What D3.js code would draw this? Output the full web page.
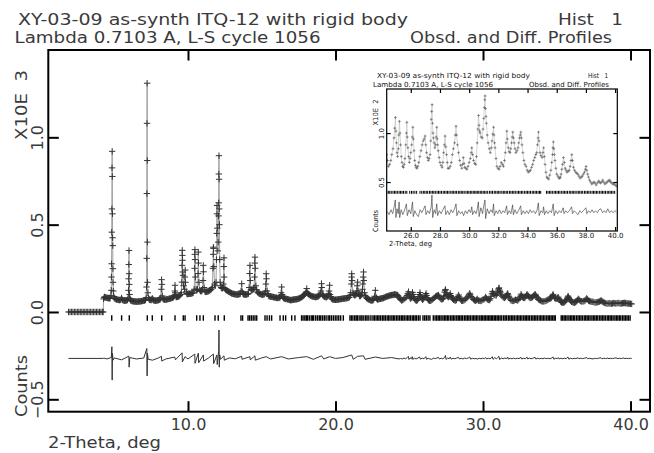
<!DOCTYPE html>
<html>
<head>
<meta charset="utf-8">
<style>
  body { margin: 0; background: #fff; }
  text { font-family: "DejaVu Sans", sans-serif; }
</style>
</head>
<body>
<script src="https://cdn.jsdelivr.net/npm/d3@7/dist/d3.min.js"></script>
<script>

// observed profile, [2-theta (deg), counts]
var obsPts = [
  [1.9,0],[2.0,0],[2.1,0],[2.2,0],[2.3,0],[2.4,0],[2.5,0],[2.6,0],[2.7,0],[2.8,0],[2.9,0],[3.0,0],
  [3.1,0],[3.2,0],[3.3,0],[3.4,0],[3.5,0],[3.6,0],[3.7,0],[3.8,0],[3.9,0],[4.0,0],[4.1,0],[4.2,0],[4.25,0],
  [4.28,75],[4.32,84],[4.35,86],[4.40,84],[4.45,82],[4.50,81],[4.55,80],[4.60,79],[4.65,78],[4.69,79],[4.72,80],
  [4.78,95],[4.80,124],[4.81,200],[4.82,276],[4.83,457],[4.84,590],[4.85,825],[4.86,920],[4.87,776],[4.88,562],
  [4.89,425],[4.90,380],[4.91,248],[4.92,170],[4.94,120],[4.97,88],
  [5.00,80],[5.05,76],[5.10,74],[5.15,72],[5.20,71],[5.25,70],[5.30,69],[5.35,68],[5.40,69],[5.45,70],[5.50,80],
  [5.55,70],[5.60,67],[5.65,66],[5.70,65],[5.75,65],[5.80,65],[5.85,66],[5.90,70],
  [5.95,80],[5.97,124],[5.98,190],[5.99,272],[6.00,352],[6.01,219],[6.02,158],[6.04,100],[6.07,74],
  [6.10,68],[6.15,64],[6.20,63],[6.25,62],[6.30,61],[6.35,60],[6.40,60],[6.45,60],[6.50,59],[6.55,59],[6.60,60],
  [6.65,60],[6.70,60],[6.75,61],[6.80,62],[6.85,62],[6.90,63],[6.95,64],[7.00,65],[7.05,66],[7.09,68],[7.12,70],
  [7.17,82],[7.19,143],[7.20,307],[7.21,678],[7.22,1080],[7.23,1310],[7.24,867],[7.25,400],[7.26,170],[7.28,110],[7.32,80],
  [7.36,74],[7.40,70],[7.45,69],[7.50,68],[7.54,72],[7.58,78],[7.62,72],[7.65,68],[7.70,66],[7.75,65],[7.80,65],
  [7.85,65],[7.90,66],[7.95,67],[8.00,68],[8.05,70],[8.09,72],[8.12,74],
  [8.16,82],[8.19,130],[8.21,185],[8.23,158],[8.26,92],
  [8.30,76],[8.35,72],[8.40,71],[8.45,70],[8.50,71],[8.55,72],[8.60,73],[8.65,74],[8.70,75],[8.75,76],[8.80,77],
  [8.85,78],[8.90,80],[8.95,82],[9.00,84],[9.03,86],
  [9.08,95],[9.11,120],[9.12,153],[9.14,110],[9.18,88],
  [9.22,86],[9.25,86],[9.30,87],[9.35,88],[9.40,91],[9.45,95],[9.50,100],
  [9.55,110],[9.58,171],[9.60,267],[9.61,353],[9.62,324],[9.63,296],[9.64,229],[9.66,210],[9.70,150],
  [9.76,130],[9.79,200],[9.81,240],[9.83,170],[9.88,115],
  [9.92,106],[9.95,102],[10.00,103],[10.05,104],[10.10,104],[10.15,105],[10.20,105],[10.25,106],[10.30,108],[10.35,110],
  [10.42,130],[10.45,250],[10.46,330],[10.47,357],[10.48,300],[10.50,200],[10.55,130],[10.60,122],
  [10.65,130],[10.68,220],[10.70,343],[10.71,280],[10.74,170],[10.80,125],
  [10.85,120],[10.90,118],[10.94,122],[10.98,130],[11.02,180],[11.04,267],[11.05,230],[11.09,140],[11.15,116],
  [11.20,115],[11.25,116],[11.30,117],[11.35,118],[11.40,120],[11.45,122],[11.50,125],[11.55,128],[11.60,132],
  [11.65,140],[11.69,250],[11.71,330],[11.72,371],[11.73,364],[11.75,260],[11.80,160],[11.85,150],
  [11.90,170],[11.93,300],[11.95,450],[11.96,562],[11.97,610],[11.99,480],[12.02,350],
  [12.05,400],[12.07,550],[12.08,625],[12.09,790],[12.10,895],[12.11,760],[12.12,590],[12.13,500],[12.15,300],
  [12.18,170],[12.22,150],[12.25,140],[12.29,137],[12.33,135],[12.37,140],
  [12.40,160],[12.43,260],[12.44,310],[12.45,200],[12.50,135],
  [12.55,128],[12.60,125],[12.65,122],[12.70,120],[12.75,117],[12.80,115],[12.85,112],[12.90,110],[12.95,107],
  [13.00,105],[13.05,104],[13.10,103],[13.15,102],[13.20,102],[13.25,101],[13.30,100],[13.35,100],[13.40,100],
  [13.45,101],[13.50,103],[13.55,105],
  [13.60,120],[13.64,162],[13.68,115],
  [13.72,106],[13.76,102],[13.80,100],[13.85,100],[13.90,100],[13.95,100],[14.00,101],[14.05,103],[14.10,105],
  [14.15,140],[14.18,220],[14.20,267],[14.22,180],[14.27,130],[14.30,127],[14.35,125],[14.40,128],[14.44,132],
  [14.48,140],[14.51,200],[14.53,280],[14.54,314],[14.56,250],[14.60,150],[14.65,128],[14.70,115],[14.75,110],
  [14.80,107],[14.85,105],[14.90,103],[14.95,101],[15.00,100],[15.05,100],[15.10,100],[15.15,100],[15.20,105],
  [15.25,120],[15.28,160],[15.30,219],[15.32,190],[15.36,120],[15.40,105],[15.45,95],[15.50,90],[15.55,89],
  [15.60,88],[15.65,88],[15.70,87],[15.75,86],[15.80,85],[15.85,84],[15.90,83],[15.95,82],[16.00,81],[16.05,80],
  [16.10,80],[16.15,81],[16.20,83],[16.25,85],[16.29,92],
  [16.32,110],[16.35,143],[16.38,100],[16.42,88],[16.46,82],[16.50,78],[16.55,77],[16.60,76],[16.65,75],[16.70,74],
  [16.75,73],[16.80,72],[16.85,70],[16.90,69],[16.95,68],[17.00,68],[17.05,69],[17.10,70],[17.15,71],[17.20,71],
  [17.25,72],[17.30,73],[17.35,73],[17.40,74],[17.45,75],[17.50,76],[17.55,78],[17.60,80],[17.65,82],[17.70,85],
  [17.75,88],[17.80,91],[17.85,95],[17.90,100],[17.95,105],[17.99,110],
  [18.02,115],[18.05,134],[18.08,110],[18.12,106],[18.16,103],[18.20,100],[18.25,97],[18.30,94],[18.35,92],
  [18.40,90],[18.45,89],[18.50,88],[18.55,87],[18.60,86],[18.65,85],[18.70,86],[18.75,87],[18.80,88],[18.85,91],
  [18.90,95],[18.95,100],[18.99,108],
  [19.02,120],[19.05,162],[19.07,140],[19.12,100],[19.16,94],[19.20,90],[19.25,88],[19.30,86],[19.35,85],
  [19.40,85],[19.45,89],[19.50,95],[19.54,105],
  [19.57,120],[19.60,153],[19.63,100],[19.67,88],[19.71,80],[19.75,75],[19.80,73],[19.85,71],[19.90,70],[19.95,70],
  [20.00,70],[20.05,70],[20.10,71],[20.15,71],[20.20,72],[20.25,73],[20.30,73],[20.35,74],[20.40,75],[20.45,75],
  [20.50,76],[20.55,77],[20.60,77],[20.65,78],[20.70,79],[20.75,79],[20.80,80],[20.85,81],[20.90,83],[20.95,85],
  [21.00,95],[21.03,110],
  [21.07,160],[21.09,200],[21.10,219],[21.12,180],[21.18,110],[21.22,102],[21.26,98],[21.30,95],[21.34,97],
  [21.38,100],[21.42,105],[21.45,120],
  [21.47,150],[21.50,171],[21.53,120],[21.57,105],[21.61,95],[21.65,90],[21.70,92],[21.75,98],[21.80,110],[21.83,130],
  [21.85,160],[21.88,200],[21.90,229],[21.92,180],[21.97,110],[22.01,95],[22.05,86],[22.10,80],[22.15,77],
  [22.20,74],[22.25,72],[22.30,70],[22.35,68],[22.40,66],[22.45,66],[22.50,67],[22.55,68],[22.60,74],[22.65,90],
  [22.70,124],[22.74,85],[22.78,78],[22.82,74],[22.85,72],[22.90,73],[22.95,74],[23.00,75],[23.05,76],[23.10,77],
  [23.15,78],[23.20,79],[23.25,80],[23.30,82],[23.35,84],[23.40,86],[23.45,88],[23.50,89],[23.55,90],[23.60,92],
  [23.65,93],[23.70,95],[23.75,96],[23.80,97],[23.85,97],[23.90,98],[23.95,99],[24.00,100],[24.05,100],[24.10,99],
  [24.15,98],[24.20,96],[24.25,92],[24.30,85],[24.35,78],
  [24.40,72],[24.47,66],[24.55,68],[24.63,72],[24.70,78],[24.78,84],[24.85,95],[24.90,105],[24.95,116],[24.98,102],
  [25.02,90],[25.06,80],[25.10,76],[25.15,84],[25.18,98],[25.22,112],[25.26,100],[25.30,88],[25.35,76],[25.40,70],
  [25.45,66],[25.50,65],[25.55,68],[25.60,74],[25.66,88],[25.70,100],[25.73,111],[25.76,96],[25.80,85],[25.85,76],
  [25.90,70],[25.95,74],[26.00,80],[26.06,88],[26.10,96],[26.14,106],[26.18,94],[26.22,82],[26.27,72],[26.32,67],
  [26.37,65],[26.42,64],[26.48,66],[26.55,70],[26.62,76],[26.70,82],[26.78,88],[26.85,92],[26.92,94],[26.98,97],
  [27.03,88],[27.08,80],[27.14,75],[27.20,72],[27.26,74],[27.32,78],[27.37,92],[27.40,114],[27.43,122],[27.46,129],
  [27.49,110],[27.52,100],[27.55,95],[27.60,90],[27.65,85],[27.70,88],[27.74,96],[27.78,106],[27.81,94],[27.84,88],
  [27.88,82],[27.94,75],[28.00,70],[28.08,67],[28.15,65],[28.20,70],[28.25,80],[28.30,88],[28.35,97],[28.40,86],
  [28.45,78],[28.50,70],[28.55,64],[28.62,64],[28.70,66],[28.78,70],[28.85,78],[28.92,84],[29.00,90],[29.05,98],
  [29.10,107],[29.14,98],[29.20,88],[29.27,80],[29.35,72],[29.42,67],[29.50,64],[29.55,68],[29.60,75],[29.65,69],
  [29.70,65],[29.78,64],[29.85,63],[29.92,66],[30.00,70],[30.08,74],[30.14,80],[30.18,85],[30.24,78],[30.30,72],
  [30.38,69],[30.45,68],[30.50,76],[30.55,90],[30.60,104],[30.64,118],[30.68,108],[30.72,102],[30.75,100],[30.82,96],
  [30.90,95],[30.95,104],[31.00,115],[31.04,126],[31.07,134],[31.09,138],[31.12,125],[31.15,117],[31.18,110],[31.24,98],
  [31.30,90],[31.38,84],[31.45,80],[31.52,85],[31.57,92],[31.62,99],[31.67,106],[31.70,98],[31.74,90],[31.77,85],
  [31.84,74],[31.90,66],[31.98,64],[32.05,63],[32.12,66],[32.20,70],[32.28,68],[32.35,66],[32.42,72],[32.48,80],
  [32.53,90],[32.58,102],[32.62,94],[32.68,85],[32.74,81],[32.80,80],[32.85,84],[32.90,90],[32.95,96],[32.99,101],
  [33.04,95],[33.08,90],[33.14,84],[33.20,80],[33.28,82],[33.35,85],[33.40,90],[33.45,95],[33.50,98],[33.54,101],
  [33.58,95],[33.62,88],[33.68,80],[33.75,72],[33.82,68],[33.90,66],[33.98,62],[34.05,60],[34.12,61],[34.20,62],
  [34.28,65],[34.35,68],[34.42,72],[34.50,75],[34.57,78],[34.63,80],[34.68,88],[34.72,95],[34.75,101],[34.78,92],
  [34.85,80],[34.92,77],[35.00,75],[35.05,80],[35.10,85],[35.15,76],[35.20,68],[35.26,60],[35.32,55],[35.38,54],
  [35.45,53],[35.52,57],[35.60,62],[35.66,70],[35.71,78],[35.74,85],[35.77,91],[35.80,84],[35.84,78],[35.88,72],
  [35.94,64],[36.00,58],[36.08,56],[36.15,54],[36.20,54],[36.25,55],[36.30,58],[36.35,63],[36.40,68],[36.46,75],
  [36.52,70],[36.58,64],[36.64,62],[36.70,60],[36.78,61],[36.85,62],[36.92,66],[36.98,72],[37.03,78],[37.08,72],
  [37.15,65],[37.22,62],[37.30,60],[37.38,59],[37.45,58],[37.52,56],[37.60,54],[37.68,55],[37.75,56],[37.82,58],
  [37.90,60],[37.96,63],[38.01,66],[38.06,62],[38.12,58],[38.18,55],[38.25,52],[38.32,50],[38.40,48],[38.48,49],
  [38.55,50],[38.62,49],[38.70,47],[38.78,49],[38.86,51],[38.93,50],[39.00,49],[39.08,50],[39.15,52],[39.22,50],
  [39.30,48],[39.38,49],[39.45,50],[39.52,51],[39.60,52],[39.65,51],[39.70,50],[39.78,49],[39.85,48],[39.92,48],
  [40.00,47],[40.08,46]
];

// difference (obs - calc), [2-theta, counts]
var diffPts = [
  [1.9,0],[4.25,0],[4.30,2],[4.50,-3],[4.80,5],[4.84,67],[4.86,-124],[4.88,30],[4.92,-10],[5.00,3],[5.50,-8],
  [5.99,13],[6.01,-50],[6.05,5],[6.50,-3],[7.00,2],[7.21,57],[7.23,-100],[7.25,30],[7.30,-5],[7.60,-10],[8.00,3],
  [8.20,12],[8.22,-15],[8.50,-3],[9.10,8],[9.15,-8],[9.60,32],[9.62,-20],[9.80,10],[10.00,-3],[10.46,25],[10.48,-28],
  [10.70,30],[10.72,-25],[11.04,20],[11.06,-15],[11.40,3],[11.72,25],[11.74,-30],[11.96,20],[11.98,-35],[12.08,40],
  [12.10,163],[12.12,-50],[12.15,20],[12.20,-5],[12.44,15],[12.46,-10],[12.80,3],[13.20,-2],[13.64,12],[13.66,-5],
  [14.20,10],[14.22,-8],[14.54,15],[14.56,-10],[15.00,3],[15.30,10],[15.60,-3],[16.35,10],[16.80,-3],[17.50,5],
  [18.05,10],[18.50,-5],[19.06,15],[19.20,-3],[19.60,10],[20.00,0],[20.50,5],[21.10,20],[21.20,-5],[21.50,12],
  [21.90,15],[22.00,-5],[22.70,8],[23.20,0],[23.80,5],[24.30,-3],
  [24.40,0],[24.52,-3],[24.64,2],[24.76,-2],[24.86,5],[24.94,12],[24.98,-6],[25.06,3],[25.14,-2],[25.20,10],[25.24,-6],
  [25.34,2],[25.46,-3],[25.58,2],[25.70,8],[25.76,-4],[25.88,2],[26.00,-2],[26.12,10],[26.17,-5],[26.28,1],[26.40,-3],
  [26.52,-5],[26.64,2],[26.76,-1],[26.88,3],[26.98,6],[27.04,-3],[27.16,1],[27.28,-2],[27.40,5],[27.45,17],[27.50,-6],
  [27.60,2],[27.70,-2],[27.78,8],[27.84,-4],[27.96,1],[28.08,-2],[28.20,2],[28.34,6],[28.40,-3],[28.52,1],[28.64,-3],
  [28.76,2],[28.88,-1],[29.00,3],[29.10,8],[29.16,-4],[29.28,1],[29.40,-2],[29.52,0],[29.62,-4],[29.74,1],[29.86,-2],
  [29.98,2],[30.10,-1],[30.18,5],[30.24,-3],[30.36,1],[30.48,-2],[30.56,3],[30.63,10],[30.68,-5],[30.80,4],[30.92,-2],
  [31.00,6],[31.08,12],[31.13,-7],[31.24,3],[31.36,-2],[31.48,2],[31.60,-1],[31.67,8],[31.72,-4],[31.84,1],[31.96,-2],
  [32.08,2],[32.20,-2],[32.32,1],[32.44,-1],[32.57,6],[32.62,-3],[32.74,1],[32.86,-2],[32.98,7],[33.03,-3],[33.14,2],
  [33.26,-2],[33.38,1],[33.53,6],[33.58,-3],[33.70,1],[33.82,-2],[33.94,1],[34.06,-2],[34.18,2],[34.30,-1],[34.42,1],
  [34.54,-2],[34.66,2],[34.74,9],[34.80,-4],[34.92,1],[35.04,-1],[35.10,5],[35.16,-3],[35.28,1],[35.40,-2],[35.52,1],
  [35.64,-1],[35.76,8],[35.82,-4],[35.94,1],[36.06,-2],[36.18,1],[36.30,-1],[36.45,4],[36.50,-2],[36.62,1],[36.74,-1],
  [36.86,1],[37.02,5],[37.08,-2],[37.20,1],[37.32,-1],[37.46,-3],[37.58,1],[37.70,-1],[37.82,1],[38.00,4],[38.06,-2],
  [38.18,1],[38.30,-1],[38.42,2],[38.54,-1],[38.66,1],[38.78,-1],[38.90,2],[39.02,3],[39.14,-1],[39.26,1],[39.38,-1],
  [39.50,3],[39.62,-1],[39.74,1],[39.86,-1],[39.98,1],[40.08,0]
];

// reflection positions (2-theta)
var reflTth = [
  4.83, 5.50, 6.02, 7.24, 7.58, 8.22, 9.12, 9.68, 9.80, 10.59, 10.81, 11.04, 11.83, 12.05, 12.46, 13.59, 13.70,
  14.07, 14.18, 14.30, 14.42, 14.54, 14.66, 15.22, 15.36, 15.52, 15.67, 16.24, 16.46, 16.62, 17.03, 17.25,
  17.70, 17.80, 17.92, 18.02, 18.10, 18.22, 18.35, 18.44, 18.52, 18.66, 18.78, 18.90, 19.00, 19.12, 19.24, 19.36,
  19.50, 19.60, 19.72, 19.85, 19.98, 20.10, 20.22, 20.35, 20.53,
  20.98, 21.08, 21.18, 21.30, 21.40, 21.48, 21.60, 21.72, 21.80, 21.92, 22.05, 22.14, 22.26, 22.40, 22.54,
  22.64, 22.75, 22.86, 22.95, 23.06, 23.18, 23.28, 23.38, 23.50, 23.60, 23.70, 23.82, 23.92, 24.02, 24.14, 24.24,
  24.35, 24.46, 24.56, 24.66, 24.78, 24.88, 24.98, 25.08, 25.20, 25.30, 25.40, 25.50, 25.62, 25.73,
  25.93, 26.05, 26.16, 26.28, 26.40, 26.63, 26.75,
  26.86, 26.96, 27.06, 27.16, 27.28, 27.38, 27.48, 27.58, 27.68, 27.80, 27.90, 28.00, 28.10, 28.22, 28.32, 28.42,
  28.52, 28.62, 28.74, 28.84, 28.94, 29.04, 29.14, 29.26, 29.36, 29.46, 29.56, 29.66, 29.78, 29.88, 29.98, 30.08,
  30.18, 30.28, 30.38, 30.47, 30.56, 30.66, 30.76, 30.86, 30.96, 31.06, 31.16, 31.27,
  31.40, 31.50, 31.60, 31.72, 31.82, 31.92, 32.02, 32.12, 32.24, 32.34, 32.44, 32.54, 32.64, 32.76, 32.86, 32.96,
  33.06, 33.16, 33.28, 33.38, 33.48, 33.58, 33.68, 33.80, 33.90, 34.00, 34.10, 34.20, 34.32, 34.42, 34.52, 34.62,
  34.72, 34.82, 34.90,
  35.30, 35.40, 35.50, 35.60, 35.70, 35.82, 35.92, 36.02, 36.12, 36.22, 36.34, 36.44, 36.54, 36.64, 36.74, 36.86,
  36.96, 37.06, 37.16, 37.26, 37.38, 37.48, 37.58, 37.68, 37.78, 37.90, 38.00, 38.10, 38.20, 38.30, 38.42, 38.52,
  38.62, 38.72, 38.82, 38.94, 39.04, 39.14, 39.24, 39.34, 39.46, 39.56, 39.66, 39.76, 39.86, 39.97
];

var mainXTicks = [10, 20, 30, 40];
var mainYTicks = [-0.5, 0.0, 0.5, 1.0];
var insetXTicks = [26, 28, 30, 32, 34, 36, 38, 40];
var insetYTicks = [0.5, 1.0];

var titleLine1 = "XY-03-09 as-synth ITQ-12 with rigid body";
var titleLine2 = "Lambda 0.7103 A, L-S cycle 1056";
var histLabel = "Hist   1";
var profLabel = "Obsd. and Diff. Profiles";

var svg = d3.select("body").append("svg")
    .attr("width", 654)
    .attr("height", 453);

var fmt = d3.format(".1f");

function drawPanel(p, id) {
  var g = svg.append("g");
  var x = d3.scaleLinear().domain(p.xDomain).range([p.left, p.right]);
  var y = d3.scaleLinear().domain(p.yDomain).range([p.bottom, p.top]);
  var inRange = function(d) { return d[0] >= p.xDomain[0] && d[0] <= p.xDomain[1]; };

  g.append("rect")
    .attr("x", p.left).attr("y", p.top)
    .attr("width", p.right - p.left).attr("height", p.bottom - p.top)
    .attr("fill", "#fff");

  g.append("clipPath").attr("id", id)
    .append("rect")
    .attr("x", p.left).attr("y", p.top)
    .attr("width", p.right - p.left).attr("height", p.bottom - p.top);

  var plot = g.append("g").attr("clip-path", "url(#" + id + ")");
  var obs = obsPts.filter(inRange);
  var dif = diffPts.filter(inRange);

  // calculated profile
  plot.append("path")
    .datum(obs)
    .attr("fill", "none")
    .attr("stroke", p.calcColor)
    .attr("stroke-width", p.lw)
    .attr("d", d3.line().x(function(d) { return x(d[0]); }).y(function(d) { return y(d[1] / p.unit); }));

  // observed points as crosses
  plot.selectAll(".obs")
    .data(obs)
    .enter().append("path")
    .attr("class", "obs")
    .attr("fill", "none")
    .attr("stroke", p.obsColor)
    .attr("stroke-width", p.lw)
    .attr("d", function(d) {
      var cx = x(d[0]), cy = y(d[1] / p.unit), s = p.mk;
      return "M" + (cx - s) + "," + cy + "H" + (cx + s) + "M" + cx + "," + (cy - s) + "V" + (cy + s);
    });

  // reflection markers
  plot.selectAll(".refl")
    .data(reflTth.filter(function(t) { return t >= p.xDomain[0] && t <= p.xDomain[1]; }))
    .enter().append("line")
    .attr("class", "refl")
    .attr("x1", function(d) { return x(d); })
    .attr("x2", function(d) { return x(d); })
    .attr("y1", y(p.reflY[0]))
    .attr("y2", y(p.reflY[1]))
    .attr("stroke", "#000")
    .attr("stroke-width", p.reflW);

  // difference curve
  plot.append("path")
    .datum(dif)
    .attr("fill", "none")
    .attr("stroke", "#333")
    .attr("stroke-width", p.lw)
    .attr("d", d3.line().x(function(d) { return x(d[0]); }).y(function(d) { return y(d[1] / p.unit + p.diffBase); }));

  // axes, ticks pointing inward
  var bottom = g.append("g")
    .attr("transform", "translate(0," + p.bottom + ")")
    .call(d3.axisBottom(x).tickValues(p.xTicks).tickSize(-p.tick).tickPadding(p.xPad).tickFormat(fmt));
  var top = g.append("g")
    .attr("transform", "translate(0," + p.top + ")")
    .call(d3.axisTop(x).tickValues(p.xTicks).tickSize(-p.tick).tickFormat(""));
  var left = g.append("g")
    .attr("transform", "translate(" + p.left + ",0)")
    .call(d3.axisLeft(y).tickValues(p.yTicks).tickSize(-p.tick).tickFormat(fmt));
  var right = g.append("g")
    .attr("transform", "translate(" + p.right + ",0)")
    .call(d3.axisRight(y).tickValues(p.yTicks).tickSize(-p.tick).tickFormat(""));

  [bottom, top, left, right].forEach(function(a) {
    a.select(".domain").remove();
    a.selectAll("line").attr("stroke", "#000").attr("stroke-width", p.fw);
    a.attr("font-size", null).attr("font-family", null);
    a.selectAll("text").style("font-size", p.fs + "px").attr("fill", p.textColor);
  });

  left.selectAll("text")
    .attr("x", 0).attr("dy", 0)
    .attr("y", -p.yPad)
    .attr("text-anchor", "middle")
    .attr("transform", "rotate(-90)");

  g.append("rect")
    .attr("x", p.left).attr("y", p.top)
    .attr("width", p.right - p.left).attr("height", p.bottom - p.top)
    .attr("fill", "none")
    .attr("stroke", "#000")
    .attr("stroke-width", p.fw);

  // texts
  function label(txt, tx, ty, len, rot) {
    var t = g.append("text")
      .attr("transform", "translate(" + tx + "," + ty + ")" + (rot ? " rotate(-90)" : ""))
      .attr("text-anchor", rot ? "middle" : "start")
      .attr("fill", p.textColor)
      .style("font-size", p.fs + "px")
      .style("white-space", "pre")
      .text(txt);
    if (len) t.attr("textLength", len).attr("lengthAdjust", "spacingAndGlyphs");
  }
  label(titleLine1, p.t1[0], p.t1[1], p.t1[2]);
  label(histLabel, p.h[0], p.h[1], p.h[2]);
  label(titleLine2, p.t2[0], p.t2[1], p.t2[2]);
  label(profLabel, p.pr[0], p.pr[1], p.pr[2]);
  label("X10E  " + p.exp, p.yl[0], p.yl[1], p.yl[2], true);
  label("Counts", p.cl[0], p.cl[1], p.cl[2], true);
  label("2-Theta, deg", p.xl[0], p.xl[1], p.xl[2]);
}

// main panel: counts in thousands
drawPanel({
  left: 48.3, right: 650, top: 50, bottom: 411.7,
  xDomain: [0.53, 41.32], yDomain: [-0.571, 1.5],
  unit: 1000, exp: 3, mk: 3.2, lw: 1, fw: 2, tick: 10.5,
  obsColor: "#333", calcColor: "#a0a0a0", textColor: "#3a3a3a",
  reflY: [-0.019, -0.05], reflW: 1.4, diffBase: -0.266,
  xTicks: mainXTicks, yTicks: mainYTicks, fs: 16, xPad: 7, yPad: 5,
  t1: [18, 25, 390], h: [558, 25, 65], t2: [14.5, 43, 306], pr: [410, 43, 202],
  yl: [26.7, 105, 70], cl: [26.7, 386, 62], xl: [48, 448, 113]
}, "clipMain");

// inset panel: counts in hundreds
drawPanel({
  left: 386.7, right: 617.3, top: 89, bottom: 231,
  xDomain: [24.35, 40.15], yDomain: [0, 1.45],
  unit: 100, exp: 2, mk: 1.4, lw: 0.6, fw: 1.2, tick: 4,
  obsColor: "#555", calcColor: "#bbb", textColor: "#111",
  reflY: [0.41, 0.38], reflW: 1, diffBase: 0.197,
  xTicks: insetXTicks, yTicks: insetYTicks, fs: 7, xPad: 2.5, yPad: 2.5,
  t1: [377, 78, 153], h: [588, 78, 20], t2: [373, 86.5, 120], pr: [529, 86.5, 80],
  yl: [378, 112.5, 26], cl: [378, 221, 22], xl: [389, 245.5, 43]
}, "clipInset");

</script>
</body>
</html>
